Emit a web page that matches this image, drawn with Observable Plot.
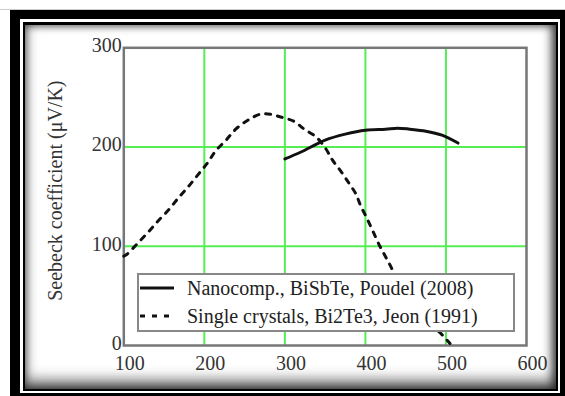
<!DOCTYPE html>
<html>
<head>
<meta charset="utf-8">
<script src="https://cdn.jsdelivr.net/npm/d3@7"></script>
<script src="https://cdn.jsdelivr.net/npm/@observablehq/plot@0.6"></script>
<style>
  html, body { margin: 0; padding: 0; }
  body { width: 565px; height: 396px; position: relative; background: #fff; overflow: hidden; font-family: "Liberation Serif", serif; }
  .abs { position: absolute; }
  #legend { position: absolute; left: 137px; top: 273px; width: 374px; height: 55px; border: 2px solid #888; background: #fff; }
  .row { position: absolute; left: 0; height: 24px; display: flex; align-items: center; font-size: 20px; color: #222; white-space: nowrap; }
  .row svg { margin-right: 12px; }
</style>
</head>
<body>
<div class="abs" style="left:0;top:9px;width:565px;height:1px;background:#ccc"></div>
<div class="abs" style="left:10px;top:10px;width:555px;height:386px;background:#000"></div>
<div class="abs" style="left:20px;top:19px;width:540px;height:374px;background:#fff"></div>
<div class="abs" style="left:23px;top:22px;width:535px;height:369px;background:#000"></div>
<div class="abs" style="left:25px;top:25px;width:531px;height:364px;background:#fff;box-shadow: inset 0 -9px 14px rgba(0,0,0,0.55), inset -4px 0 10px rgba(0,0,0,0.5), inset 0 0 9px rgba(0,0,0,0.4)"></div>
<div id="chart" class="abs" style="left:0;top:0"></div>
<div id="legend"></div>
<script>
// Temperature (K) and Seebeck coefficient (µV/K)
const poudelT = [300, 320, 350, 375, 400, 425, 440, 455, 475, 495, 515];
const poudelS = [188, 195, 207, 213, 217, 218, 219, 218, 216, 212, 204];

const jeonT = [100, 104, 116, 130, 142, 156, 168, 180, 192, 204, 214, 227, 239, 254, 269, 282, 296, 311, 324, 339, 351, 359, 370, 380, 388, 394, 402, 410, 418, 424, 430, 435, 450, 465, 480, 495, 505];
const jeonS = [90, 92, 102, 114, 125, 137, 149, 160, 172, 184, 196, 207, 218, 227, 233, 233, 230, 226, 218, 210, 198, 187, 175, 163, 153, 141, 128, 114, 100, 91, 82, 74, 55, 38, 22, 11, 2];

const xTicks = [100, 200, 300, 400, 500, 600];
const yTicks = [0, 100, 200, 300];
const xGrid = [200, 300, 400, 500];
const yGrid = [100, 200];
const yLabel = ["Seebeck coefficient (\u03BCV/K)"];
const seriesNames = ["Nanocomp., BiSbTe, Poudel (2008)", "Single crystals, Bi2Te3, Jeon (1991)"];

const poudel = poudelT.map((t, i) => ({t, s: poudelS[i]}));
const jeon = jeonT.map((t, i) => ({t, s: jeonS[i]}));

const font = "Liberation Serif, serif";
const chart = Plot.plot({
  width: 565,
  height: 396,
  marginLeft: 123.3,
  marginRight: 39,
  marginTop: 47.3,
  marginBottom: 51,
  style: {background: "transparent", fontFamily: font, fontSize: "20px", color: "#333"},
  x: {domain: [100, 600], label: null},
  y: {domain: [0, 300], label: null},
  marks: [
    Plot.ruleX(xGrid, {stroke: "#55ee55", strokeWidth: 2}),
    Plot.ruleY(yGrid, {stroke: "#55ee55", strokeWidth: 2}),
    Plot.frame({stroke: "#777", strokeWidth: 2.5}),
    Plot.line(jeon, {x: "t", y: "s", stroke: "#111", strokeWidth: 3, strokeDasharray: "5,7", curve: "catmull-rom"}),
    Plot.line(poudel, {x: "t", y: "s", stroke: "#111", strokeWidth: 3, curve: "catmull-rom"}),
    Plot.axisX({ticks: xTicks, tickSize: 0, tickPadding: 10, dx: 6, fontSize: 20, fill: "#333", label: null}),
    Plot.axisY({ticks: yTicks, tickSize: 0, tickPadding: 2, dy: -2, fontSize: 20, fill: "#333", label: null}),
    Plot.text(yLabel, {frameAnchor: "left", textAnchor: "middle", dx: -68, dy: -6, rotate: -90, fontSize: 20, fill: "#333", fontFamily: font})
  ]
});
document.getElementById("chart").appendChild(chart);

const legend = document.getElementById("legend");
const dashes = [null, "5,7"];
const rowTops = [1, 29];
seriesNames.forEach((name, i) => {
  const row = document.createElement("div");
  row.className = "row";
  row.style.top = rowTops[i] + "px";
  row.innerHTML = `<svg width="36" height="10"><line x1="1" y1="5" x2="35" y2="5" stroke="#111" stroke-width="3" ${dashes[i] ? `stroke-dasharray="${dashes[i]}"` : ""}/></svg><span>${name}</span>`;
  legend.appendChild(row);
});
</script>
</body>
</html>
